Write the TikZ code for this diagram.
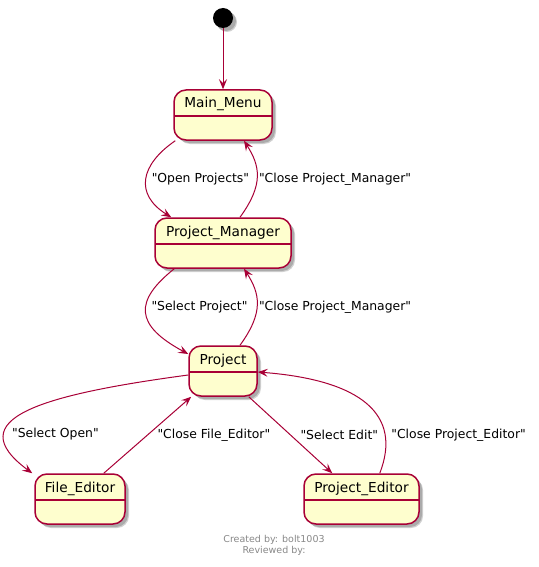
\documentclass[tikz,border=0pt]{standalone}
\usepackage{fontspec}
\setmainfont{DejaVu Sans}[Ligatures=TeXOff]
\usetikzlibrary{arrows.meta,shadows}
\definecolor{umlred}{HTML}{A80036}
\definecolor{umlfill}{HTML}{FEFECE}
\definecolor{footgray}{HTML}{888888}
\tikzset{
    statebox/.style={
           rectangle,
           rounded corners=12pt,
           draw=umlred, line width=1.5pt,
           fill=umlfill,
           minimum height=50pt,
           inner sep=0pt,
           text height=18pt, text depth=32pt,
           font=\fontsize{13.7}{16}\selectfont,
           drop shadow={shadow xshift=4pt,shadow yshift=-4pt,opacity=0.18,fill=black},
           drop shadow={shadow xshift=3pt,shadow yshift=-3pt,opacity=0.18,fill=black},
           path picture={\draw[-,umlred,line width=1.5pt]
             ([yshift=-26pt]path picture bounding box.north west) --
             ([yshift=-26pt]path picture bounding box.north east);},
           },
}
\tikzset{
    startdot/.style={
           circle,
           fill=black,
           minimum size=20pt,
           inner sep=0pt,
           drop shadow={shadow xshift=4pt,shadow yshift=-4pt,opacity=0.18,fill=black},
           drop shadow={shadow xshift=3pt,shadow yshift=-3pt,opacity=0.18,fill=black},
           },
    conn/.style={draw=umlred, line width=1pt},
    lbl/.style={font=\fontsize{12.4}{14}\selectfont, inner sep=0pt, anchor=west},
    footer/.style={align=center, font=\fontsize{9.5}{11}\selectfont, text=footgray},
}
\begin{document}
\begin{tikzpicture}[x=1pt,y=-1pt,->,>={Stealth[length=10pt,width=8pt,inset=4pt]}]
\useasboundingbox (0,0) rectangle (538,567);

 \node[startdot] (start) at (223,18) {};

 \node[statebox, minimum width=98pt] (MainMenu) at (223,115) {Main\_Menu};

 \node[statebox, minimum width=136pt] (ProjMgr) at (223,243) {Project\_Manager};

 \node[statebox, minimum width=68pt] (Project) at (223,371) {Project};

 \node[statebox, minimum width=90pt] (FileEd) at (80,499) {File\_Editor};

 \node[statebox, minimum width=115pt] (ProjEd) at (361.5,499) {Project\_Editor};

 \node[footer] (credits) at (274,545.5) {Created by: bolt1003\\Reviewed by:};

 % transitions
 \draw[conn] (start) -- (MainMenu);
 \draw[conn] ([xshift=2pt]MainMenu.south west) .. controls +(-35,24) and +(-37,-23) .. ([xshift=17pt]ProjMgr.north west)
   node[lbl,pos=0.5,xshift=5pt] {"Open Projects"};
 \draw[conn] ([xshift=17pt]ProjMgr.north) .. controls +(24,-33) and +(16,25) .. ([xshift=21pt]MainMenu.south)
   node[lbl,pos=0.5,xshift=1.5pt,yshift=-3pt] {"Close Project\_Manager"};
 \draw[conn] ([xshift=20pt]ProjMgr.south west) .. controls +(-40,32) and +(-54,-29) .. ([yshift=17pt]Project.west)
   node[lbl,pos=0.5,xshift=5pt,yshift=5pt] {"Select Project"};
 \draw[conn] ([xshift=17pt]Project.north) .. controls +(24,-33) and +(16,25) .. ([xshift=21pt]ProjMgr.south)
   node[lbl,pos=0.5,xshift=1.5pt,yshift=-3pt] {"Close Project\_Manager"};
 \draw[conn] ([yshift=-4pt]Project.west) .. controls +(-149,20) and +(-73,-54) .. ([xshift=-2pt]FileEd.north west)
   node[lbl,pos=0.7,xshift=6pt,yshift=-2.5pt] {"Select Open"};
 \draw[conn] ([xshift=-22pt]FileEd.north east) -- ([xshift=3pt]Project.south west)
   node[lbl,pos=0.5,xshift=9.5pt] {"Close File\_Editor"};
 \draw[conn] ([xshift=-9pt]Project.south east) -- ([xshift=29pt]ProjEd.north west)
   node[lbl,pos=0.5,xshift=9.5pt] {"Select Edit"};
 \draw[conn] ([xshift=-40pt]ProjEd.north east) .. controls +(23,-59) and +(103,8) .. ([yshift=-1pt]Project.east)
   node[lbl,pos=0.25,xshift=6pt,yshift=-2pt] {"Close Project\_Editor"};

\end{tikzpicture}
\end{document}
